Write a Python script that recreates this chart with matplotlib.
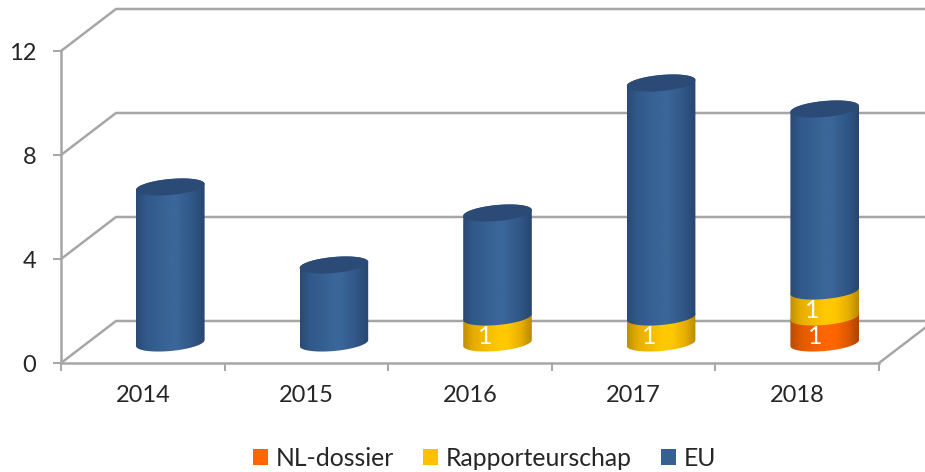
import numpy as np
import matplotlib
matplotlib.use("Agg")
import matplotlib.pyplot as plt
from matplotlib.colors import LinearSegmentedColormap
from matplotlib.patches import Patch, Polygon

years = ["2014", "2015", "2016", "2017", "2018"]
nl_dossier = [0, 0, 0, 0, 1]
rapporteurschap = [0, 0, 1, 1, 1]
eu = [6, 3, 4, 9, 7]
y_ticks = [0, 4, 8, 12]

W, H = 925, 472
plt.rcParams["font.family"] = ["Lato", "DejaVu Sans"]
fig = plt.figure(figsize=(W / 100, H / 100), dpi=100, facecolor="white")
ax = fig.add_axes([61 / W, 1 - 363 / H, (879 - 61) / W, (363 - 51) / H])
ax.set_xlim(0, 5)
ax.set_ylim(0, 12)

PX = 5 / (879 - 61)      # data x per pixel
PY = 12 / (363 - 51)     # data y per pixel
depth_x, depth_y = 55 * PX, 42 * PY
GRID = "#a6a6a6"
TXT = "#262626"
FS = 17
LW = 1.8

# walls and floor
for v in y_ticks:
    ax.plot([0, depth_x, 5 + depth_x + 1], [v, v + depth_y, v + depth_y],
            color=GRID, lw=LW, clip_on=False, zorder=1, solid_joinstyle="miter")
ax.plot([5, 5 + depth_x], [0, depth_y], color=GRID, lw=LW, clip_on=False, zorder=1)

# axes furniture
for s in ("top", "right"):
    ax.spines[s].set_visible(False)
for s in ("left", "bottom"):
    ax.spines[s].set_color(GRID)
    ax.spines[s].set_linewidth(LW)
ax.set_yticks(y_ticks)
ax.set_yticklabels([str(v) for v in y_ticks], fontsize=FS, color=TXT)
ax.tick_params(axis="y", length=5.8, width=1.4, color=GRID, pad=12)
ax.set_xticks(np.arange(6))
ax.set_xticklabels([])
ax.tick_params(axis="x", which="major", length=5.8, width=1.4, color=GRID)
ax.set_xticks(np.arange(5) + 0.5, minor=True)
ax.set_xticklabels(years, minor=True, fontsize=FS, color=TXT)
ax.tick_params(axis="x", which="minor", length=0, pad=16)

# cylinders
half_w = 34.3 * PX
rad_h = 8 * PY
skew = 3 * PY
cx_off = 27.5 * PX
base = 20 * PY

BLUE = LinearSegmentedColormap.from_list("b", [(0, "#2a4a75"), (.15, "#31598a"), (.5, "#3a6699"),
                                               (.6, "#3a6699"), (.85, "#2f5483"), (1, "#27466f")])
YEL = LinearSegmentedColormap.from_list("y", [(0, "#c08f00"), (.15, "#e6ad00"), (.5, "#ffc800"),
                                              (.65, "#ffc800"), (.85, "#e6ae00"), (1, "#b88900")])
ORG = LinearSegmentedColormap.from_list("o", [(0, "#b84a00"), (.15, "#e05800"), (.5, "#ff6600"),
                                              (.65, "#ff6600"), (.85, "#dd5800"), (1, "#a84400")])
CAP = "#2b4a75"
grad = np.linspace(0, 1, 256)[None, :]


def arc(cx, y, t):
    return np.column_stack([cx + half_w * np.cos(t), y + rad_h * np.sin(t) + skew * np.cos(t)])


def segment(cx, y0, y1, cmap):
    lower = arc(cx, y0, np.linspace(np.pi, 2 * np.pi, 60))
    upper = arc(cx, y1, np.linspace(0, np.pi, 60))
    poly = Polygon(np.vstack([lower, upper]), closed=True, transform=ax.transData)
    im = ax.imshow(grad, cmap=cmap, aspect="auto", zorder=3, interpolation="bilinear",
                   extent=(cx - half_w, cx + half_w, y0 - rad_h - skew, y1 + rad_h + skew))
    im.set_clip_path(poly)


series = [(nl_dossier, ORG), (rapporteurschap, YEL), (eu, BLUE)]
label_dx = {1: -12, 0: -9}
for i in range(len(years)):
    cx = i + 0.5 + cx_off
    y = base
    for k, (vals, cmap) in enumerate(series):
        v = vals[i]
        if v == 0:
            continue
        segment(cx, y, y + v, cmap)
        if k < 2:
            ax.annotate(str(v), (cx, y + v / 2 - 0.25), xytext=(label_dx[k] * 0.72, 0),
                        textcoords="offset points", ha="center", va="center",
                        color="white", fontsize=18, zorder=5)
        y += v
    ax.add_patch(Polygon(arc(cx, y, np.linspace(0, 2 * np.pi, 120)), closed=True,
                         facecolor=CAP, edgecolor="none", zorder=4))
ax.set_xlim(0, 5)
ax.set_ylim(0, 12)

handles = [Patch(facecolor="#ff6600", label="NL-dossier"),
           Patch(facecolor="#ffc000", label="Rapporteurschap"),
           Patch(facecolor="#376092", label="EU")]
fig.legend(handles=handles, ncol=3, loc="center", bbox_to_anchor=(484.5 / W, 1 - 458 / H),
           frameon=False, fontsize=17.8, labelcolor=TXT, handlelength=0.6, handleheight=0.6,
           handletextpad=0.3, columnspacing=1.2, borderpad=0, borderaxespad=0)

fig.savefig("out.png", dpi=100, facecolor="white")
